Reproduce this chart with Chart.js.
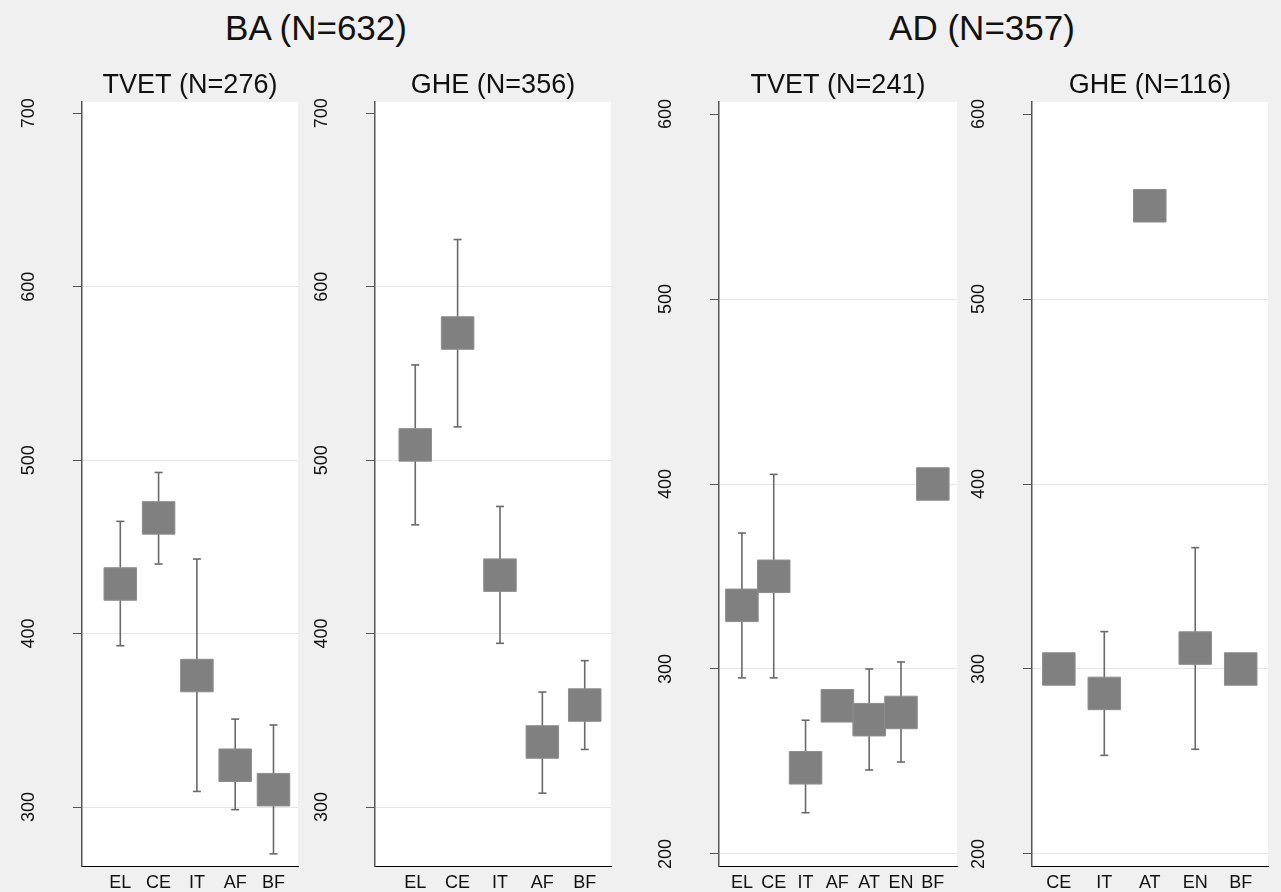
<!DOCTYPE html>
<html>
<head>
<meta charset="utf-8">
<script src="https://cdn.jsdelivr.net/npm/chart.js@4.4.0/dist/chart.umd.min.js"></script>
<style>
  body {
    margin: 0;
    width: 1281px;
    height: 892px;
    background: #f0f0f0;
    position: relative;
    overflow: hidden;
    font-family: "Liberation Sans", Arial, sans-serif;
  }
  canvas { position: absolute; top: 0; }
  .group {
    position: absolute;
    top: 10px;
    font-size: 35px;
    line-height: 35px;
    color: #111;
    white-space: nowrap;
    transform: translateX(-50%);
  }
</style>
</head>
<body>
<div class="group" style="left:316px">BA (N=632)</div>
<div class="group" style="left:982px">AD (N=357)</div>

<canvas id="baTvet"></canvas>
<canvas id="baGhe"></canvas>
<canvas id="adTvet"></canvas>
<canvas id="adGhe"></canvas>

<script>
// tick values for the two groups
const baTicks = [300, 400, 500, 600, 700];
const adTicks = [200, 300, 400, 500, 600];

// BA, TVET
const baTvetCats = ['EL', 'CE', 'IT', 'AF', 'BF'];
const baTvetMean = [428.6, 466.7, 375.8, 324.1, 310];
const baTvetLow = [393, 440.1, 309, 298.5, 273];
const baTvetHigh = [464.7, 492.9, 443, 350.7, 347.3];

// BA, GHE
const baGheCats = ['EL', 'CE', 'IT', 'AF', 'BF'];
const baGheMean = [508.8, 573.3, 433.7, 337.5, 358.8];
const baGheLow = [462.7, 519.2, 394.4, 308, 333.2];
const baGheHigh = [554.9, 627.2, 473.3, 366.3, 384.4];

// AD, TVET
const adTvetCats = ['EL', 'CE', 'IT', 'AF', 'AT', 'EN', 'BF'];
const adTvetMean = [334.4, 350.1, 246.6, 280.1, 272.6, 276.5, 400];
const adTvetLow = [295.2, 295.2, 222.3, null, 245.4, 249.7, null];
const adTvetHigh = [373.5, 405.2, 272.3, null, 300, 303.8, null];

// AD, GHE
const adGheCats = ['CE', 'IT', 'AT', 'EN', 'BF'];
const adGheMean = [300, 286.8, 550.4, 311.3, 300];
const adGheLow = [null, 253.3, null, 256.6, null];
const adGheHigh = [null, 320.2, null, 365.6, null];

const FONT = '"Liberation Sans", Arial, sans-serif';
const AXIS_W = 82;
const PLOT_TOP = 102;
const PLOT_BOTTOM = 866;
const PAGE_H = 892;

// white plot region, rotated y labels and the panel heading
const panelDecor = {
  id: 'panelDecor',
  beforeDraw(chart) {
    const a = chart.chartArea;
    const ctx = chart.ctx;
    ctx.save();
    ctx.fillStyle = '#ffffff';
    ctx.fillRect(a.left, a.top, a.right - a.left, a.bottom - a.top);
    ctx.restore();
  },
  afterDraw(chart, args, opts) {
    const a = chart.chartArea;
    const ctx = chart.ctx;
    const y = chart.scales.y;
    ctx.save();
    ctx.fillStyle = '#111';
    ctx.font = '18px ' + FONT;
    ctx.textAlign = 'center';
    ctx.textBaseline = 'alphabetic';
    y.ticks.forEach(t => {
      ctx.save();
      ctx.translate(a.left - 48, y.getPixelForValue(t.value));
      ctx.rotate(-Math.PI / 2);
      ctx.fillText(String(t.value), 0, 0);
      ctx.restore();
    });
    ctx.font = '27px ' + FONT;
    ctx.fillText(opts.title, (a.left + a.right) / 2, a.top - 9);
    ctx.restore();
  }
};

function makePanel(id, title, cats, mean, low, high, yTicks, yMin, yMax, xMin, xMax, left, width) {
  const canvas = document.getElementById(id);
  canvas.width = AXIS_W + width + 4;
  canvas.height = PAGE_H;
  canvas.style.left = (left - AXIS_W) + 'px';

  const points = mean.map((v, i) => ({ x: i + 1, y: v }));
  const whiskers = [];
  const caps = [];
  cats.forEach((c, i) => {
    if (low[i] == null) return;
    whiskers.push({ x: i + 1, y: low[i] }, { x: i + 1, y: high[i] }, { x: i + 1, y: null });
    caps.push({ x: i + 1, y: low[i] }, { x: i + 1, y: high[i] });
  });
  const topTick = yTicks[yTicks.length - 1];

  return new Chart(canvas, {
    type: 'scatter',
    data: {
      datasets: [
        {
          data: points,
          pointStyle: 'rect',
          pointRadius: 23,
          backgroundColor: '#808080',
          borderColor: '#8e8e8e',
          borderWidth: 1,
        },
        {
          data: whiskers,
          showLine: true,
          spanGaps: false,
          pointRadius: 0,
          borderColor: '#6a6a6a',
          borderWidth: 1.6,
        },
        {
          data: caps,
          pointStyle: 'line',
          pointRadius: 4,
          borderColor: '#6a6a6a',
          borderWidth: 1.6,
        },
      ],
    },
    options: {
      responsive: false,
      animation: false,
      events: [],
      layout: { autoPadding: false, padding: { top: PLOT_TOP, right: 4, bottom: 0, left: 0 } },
      plugins: {
        legend: { display: false },
        tooltip: { enabled: false },
        panelDecor: { title: title },
      },
      scales: {
        x: {
          type: 'linear',
          min: xMin,
          max: xMax,
          afterBuildTicks: s => { s.ticks = cats.map((c, i) => ({ value: i + 1 })); },
          afterFit: s => { s.height = PAGE_H - PLOT_BOTTOM; },
          grid: { display: false, drawTicks: false },
          border: { display: true, color: '#000', width: 1 },
          ticks: {
            callback: v => cats[v - 1],
            font: { family: FONT, size: 18 },
            color: '#111',
            padding: 6,
            maxRotation: 0,
            autoSkip: false,
          },
        },
        y: {
          min: yMin,
          max: yMax,
          afterBuildTicks: s => { s.ticks = yTicks.map(v => ({ value: v })); },
          afterFit: s => { s.width = AXIS_W; },
          grid: {
            color: ctx => (ctx.tick && ctx.tick.value === topTick ? 'rgba(0,0,0,0)' : '#e6e6e6'),
            tickColor: '#555',
            tickLength: 9,
            lineWidth: 1,
          },
          border: { color: '#555', width: 1.5 },
          ticks: { display: false },
        },
      },
    },
    plugins: [panelDecor],
  });
}

makePanel('baTvet', 'TVET (N=276)', baTvetCats, baTvetMean, baTvetLow, baTvetHigh,
  baTicks, 266, 706.5, 0, 5.64, 82, 216);
makePanel('baGhe', 'GHE (N=356)', baGheCats, baGheMean, baGheLow, baGheHigh,
  baTicks, 266, 706.5, 0.05, 5.62, 375, 236);
makePanel('adTvet', 'TVET (N=241)', adTvetCats, adTvetMean, adTvetLow, adTvetHigh,
  adTicks, 193.5, 606.5, 0.28, 7.76, 719, 238);
makePanel('adGhe', 'GHE (N=116)', adGheCats, adGheMean, adGheLow, adGheHigh,
  adTicks, 193.5, 606.5, 0.41, 5.6, 1032, 236);
</script>
</body>
</html>
